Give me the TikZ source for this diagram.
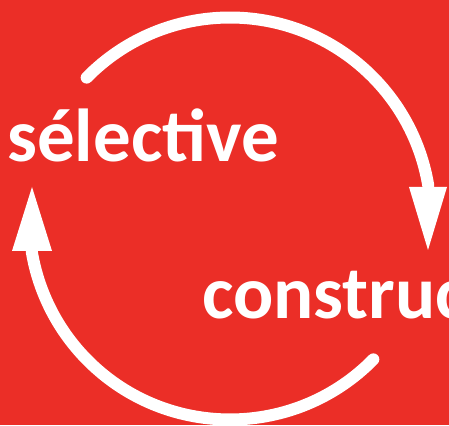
\documentclass[tikz,border=0pt]{standalone}
\usepackage{fontspec}
\setmainfont{Carlito}
\usetikzlibrary{calc}
\definecolor{bgred}{RGB}{235,46,39}

\begin{document}
\begin{tikzpicture}[x=1pt, y=1pt,
    cycle arc/.style = {white, line width = 12pt, line cap = round},
    cycle head/.style = {white, fill = white},
    big word/.style = {white, inner sep = 0pt, font = \bfseries\fontsize{75}{75}\selectfont}]
            \useasboundingbox (0, 0) rectangle (449, 425);
            \clip (0, 0) rectangle (449, 425);
            \fill[bgred] (0, 0) rectangle (449, 425);

            \coordinate (centre) at (230, 206.5);
            \coordinate (top_start) at ($(centre) + (135.5:201)$);
            \coordinate (bottom_start) at ($(centre) + (-44.5:201)$);
            \coordinate (right_tip) at (428, 175);
            \coordinate (left_tip) at (32, 238);

            \draw[cycle arc] (top_start) arc[start angle = 135.5, end angle = 9.5, radius = 201];
            \fill[cycle head] (right_tip) -- (409, 238) -- (447, 238) -- cycle;

            \draw[cycle arc] (bottom_start) arc[start angle = -44.5, end angle = -170.5, radius = 201];
            \fill[cycle head] (left_tip) -- (52, 174) -- (12, 174) -- cycle;

            \node[big word, anchor = base west] (selective) at (7, 263) {sélective};
            \node[big word, anchor = base west] (construc) at (202, 106) {construc};
        \end{tikzpicture}
\end{document}
